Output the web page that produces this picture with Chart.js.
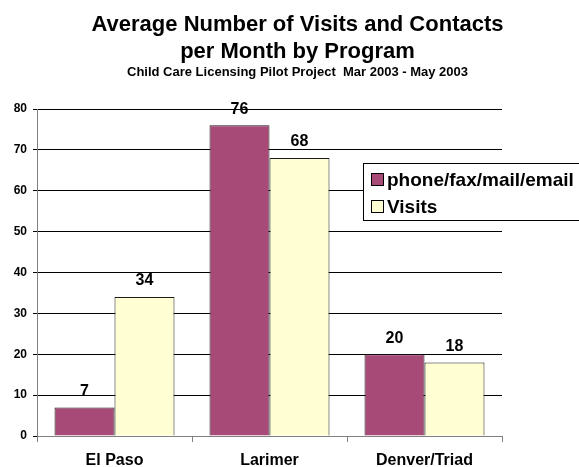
<!DOCTYPE html>
<html>
<head>
<meta charset="utf-8">
<style>
  html, body { margin: 0; padding: 0; background: #ffffff; }
  #wrap { width: 579px; height: 467px; }
</style>
<script src="https://cdn.jsdelivr.net/npm/chart.js@4/dist/chart.umd.min.js"></script>
</head>
<body>
<div id="wrap"><canvas id="c" width="579" height="467"></canvas></div>
<script>
// Programs and monthly averages
const programs = ['El Paso', 'Larimer', 'Denver/Triad'];
const contacts = [7, 76, 20];   // phone/fax/mail/email
const visits = [34, 68, 18];
const seriesNames = ['phone/fax/mail/email', 'Visits'];
const titleLines = ['Average Number of Visits and Contacts', 'per Month by Program'];
const subtitleText = 'Child Care Licensing Pilot Project  Mar 2003 - May 2003';
const yTicks = [0, 10, 20, 30, 40, 50, 60, 70, 80];

const FONT = '"Liberation Sans", Arial, Helvetica, sans-serif';

// Headings drawn above the plot
const headingPlugin = {
  id: 'heading',
  afterDraw(chart) {
    const ctx = chart.ctx;
    ctx.save();
    ctx.fillStyle = '#000';
    ctx.textAlign = 'center';
    ctx.textBaseline = 'alphabetic';
    ctx.font = 'bold 22px ' + FONT;
    ctx.fillText(titleLines[0], 297.5, 31);
    ctx.fillText(titleLines[1], 297.5, 58);
    ctx.font = 'bold 13px ' + FONT;
    ctx.fillText(subtitleText, 297.5, 76);
    ctx.restore();
  }
};

// Value labels above each bar
const valueLabelPlugin = {
  id: 'valueLabels',
  afterDatasetsDraw(chart) {
    const ctx = chart.ctx;
    ctx.save();
    ctx.fillStyle = '#000';
    ctx.font = 'bold 16px ' + FONT;
    ctx.textAlign = 'center';
    ctx.textBaseline = 'middle';
    chart.data.datasets.forEach((ds, i) => {
      chart.getDatasetMeta(i).data.forEach((bar, j) => {
        ctx.fillText(String(ds.data[j]), bar.x, bar.y - 16);
      });
    });
    ctx.restore();
  }
};

// Boxed legend overlapping the right side of the plot
const boxLegendPlugin = {
  id: 'boxLegend',
  afterDraw(chart) {
    const ctx = chart.ctx;
    const x = 363.5, y = 163.5, w = 240, h = 57;
    ctx.save();
    ctx.fillStyle = '#ffffff';
    ctx.fillRect(x, y, w, h);
    ctx.strokeStyle = '#000';
    ctx.lineWidth = 1;
    ctx.strokeRect(x, y, w, h);
    ctx.font = 'bold 19px ' + FONT;
    ctx.textBaseline = 'alphabetic';
    ctx.textAlign = 'left';
    const baselines = [186, 213];
    chart.data.datasets.forEach((ds, i) => {
      const b = baselines[i];
      ctx.fillStyle = ds.backgroundColor;
      ctx.fillRect(371.5, b - 12.5, 12, 12);
      ctx.strokeStyle = '#000';
      ctx.strokeRect(371.5, b - 12.5, 12, 12);
      ctx.fillStyle = '#000';
      ctx.fillText(ds.label, 387, b);
    });
    ctx.restore();
  }
};

new Chart(document.getElementById('c'), {
  type: 'bar',
  data: {
    labels: programs,
    datasets: [
      {
        label: seriesNames[0],
        data: contacts,
        backgroundColor: '#A84A77',
        borderColor: '#1a1a1a',
        borderWidth: 1,
        borderSkipped: 'bottom'
      },
      {
        label: seriesNames[1],
        data: visits,
        backgroundColor: '#FFFFD3',
        borderColor: '#1a1a1a',
        borderWidth: 1,
        borderSkipped: 'bottom'
      }
    ]
  },
  options: {
    responsive: false,
    animation: false,
    layout: { padding: { top: 109, right: 77, left: 0, bottom: 0 } },
    datasets: {
      bar: { categoryPercentage: 0.774, barPercentage: 1.0 }
    },
    plugins: {
      legend: { display: false },
      title: { display: false },
      tooltip: { enabled: false }
    },
    scales: {
      x: {
        afterFit(scale) { scale.height = 31; },
        grid: {
          offset: true,
          drawOnChartArea: false,
          drawTicks: true,
          tickLength: 6,
          color: '#808080'
        },
        border: { color: '#808080', width: 1 },
        ticks: {
          color: '#000',
          font: { family: FONT, size: 16, weight: 'bold' },
          padding: 9
        }
      },
      y: {
        min: 0,
        max: 80,
        afterFit(scale) { scale.width = 37; },
        afterBuildTicks(scale) { scale.ticks = yTicks.map(v => ({ value: v })); },
        grid: {
          color: '#000',
          lineWidth: 1,
          drawTicks: true,
          tickLength: 4
        },
        border: { color: '#808080', width: 1 },
        ticks: {
          color: '#000',
          font: { family: FONT, size: 12, weight: 'bold' },
          padding: 6
        }
      }
    }
  },
  plugins: [headingPlugin, valueLabelPlugin, boxLegendPlugin]
});
</script>
</body>
</html>
